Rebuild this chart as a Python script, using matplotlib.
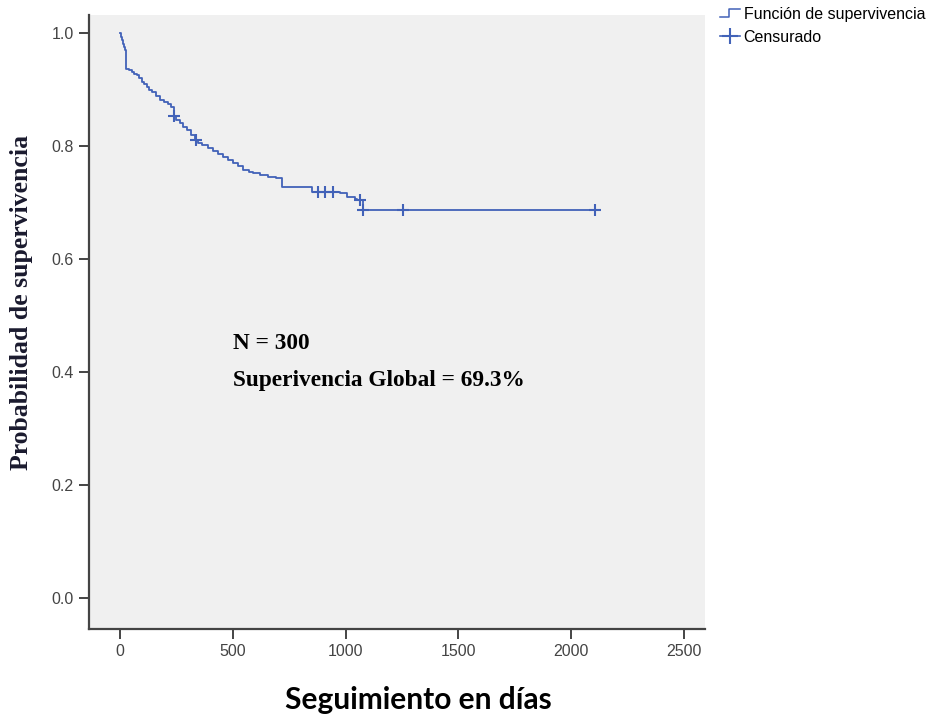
import numpy as np
import matplotlib
matplotlib.use('Agg')
from matplotlib import pyplot as plt
from matplotlib.lines import Line2D
from matplotlib.legend_handler import HandlerBase

# Kaplan-Meier steps (day of event, survival after it)
event_days = [0, 3, 8, 13, 18, 23, 29, 40, 52, 63, 74, 85, 96, 107, 118, 129, 140,
              158, 177, 195, 214, 225, 238, 250, 266, 281, 296, 314, 332, 345, 362,
              390, 414, 436, 458, 480, 502, 525, 547, 570, 591, 620, 657, 690, 720,
              850, 975, 1005, 1040, 1050, 1078]
survival = [1.0, 0.993, 0.987, 0.980, 0.976, 0.970, 0.937, 0.934, 0.931, 0.928, 0.925,
            0.920, 0.914, 0.910, 0.905, 0.900, 0.896, 0.889, 0.881, 0.878, 0.874, 0.870,
            0.853, 0.846, 0.840, 0.834, 0.828, 0.820, 0.811, 0.806, 0.802, 0.797, 0.792,
            0.786, 0.780, 0.775, 0.770, 0.764, 0.758, 0.754, 0.752, 0.749, 0.746, 0.743,
            0.727, 0.719, 0.716, 0.710, 0.707, 0.704, 0.686]
last_day = 2105

# censored observations
cens_days = [240, 335, 878, 909, 944, 1064, 1078, 1254, 2105]
cens_surv = [0.853, 0.811, 0.719, 0.719, 0.719, 0.704, 0.686, 0.686, 0.686]

xticks = [0, 500, 1000, 1500, 2000, 2500]
yticks = [0.0, 0.2, 0.4, 0.6, 0.8, 1.0]

blue = '#4262b8'


class StepHandler(HandlerBase):
  def create_artists(self, legend, orig_handle, xdescent, ydescent, width, height, fontsize, trans):
    x0, y0 = -xdescent, -ydescent
    xs = [x0, x0 + width * 0.45, x0 + width * 0.45, x0 + width]
    ys = [y0 + height * 0.1, y0 + height * 0.1, y0 + height * 0.9, y0 + height * 0.9]
    ln = Line2D(xs, ys, color=blue, lw=1.1, transform=trans)
    return [ln]


fig = plt.figure(figsize=(9.43, 7.17), dpi=100)
ax = fig.add_axes([89 / 943, 1 - 629 / 717, (705 - 89) / 943, (629 - 15) / 717])
ax.set_facecolor('#f0f0f0')

xs = list(event_days) + [last_day]
ys = list(survival) + [survival[-1]]
ax.step(xs, ys, where='post', color=blue, lw=1.3)
ax.plot(cens_days, cens_surv, ls='none', marker='+', ms=9, mew=1.5, color=blue)

ax.set_xlim(-137, 2593)
ax.set_ylim(-0.055, 1.032)
ax.set_xticks(xticks)
ax.set_yticks(yticks)
ax.set_yticklabels(['%.1f' % v for v in yticks])

for s in ['top', 'right']:
  ax.spines[s].set_visible(False)
for s in ['left', 'bottom']:
  ax.spines[s].set_color('#444444')
  ax.spines[s].set_linewidth(1.6)
ax.tick_params(direction='out', length=7, width=1.4, color='#444444',
               labelsize=11.5, labelcolor='#444444', pad=4)
for lab in ax.get_xticklabels() + ax.get_yticklabels():
  lab.set_family('Liberation Sans')

ax.text(500, 0.44, 'N = 300', family='Liberation Serif', fontweight='bold',
        fontsize=16.8, color='black')
ax.text(500, 0.375, 'Superivencia Global = 69.3%', family='Liberation Serif',
        fontweight='bold', fontsize=16.8, color='black')

fig.text(22 / 943, 1 - 302 / 717, 'Probabilidad de supervivencia', rotation=90,
         ha='center', va='center', family='Liberation Serif', fontweight='bold',
         fontsize=18.5, color='#1a1a2e')
fig.text(418 / 943, 1 - 700 / 717, 'Seguimiento en días', ha='center', va='center',
         family='Lato', fontweight='bold', fontsize=21.5, color='black')

h1 = Line2D([], [], color=blue)
h2 = Line2D([0, 1], [0, 0], color=blue, marker='+', ms=11, mew=1.5, lw=1.2)
fig.legend([h1, h2], ['Función de supervivencia', 'Censurado'],
           handler_map={h1: StepHandler()}, loc='upper left',
           bbox_to_anchor=(718 / 943, 1 - 5 / 717), frameon=False,
           prop={'family': 'Liberation Sans', 'size': 11.5},
           handlelength=1.3, handletextpad=0.2, labelspacing=0.5,
           borderaxespad=0, borderpad=0.1)

fig.savefig('out.png', dpi=100)
